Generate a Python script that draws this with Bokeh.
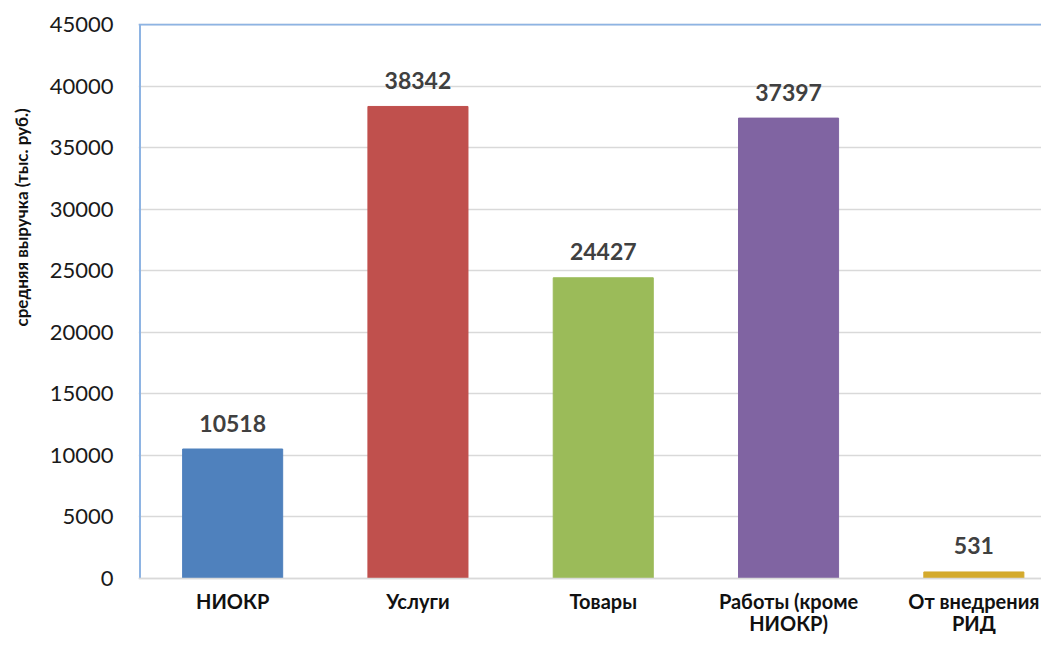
from bokeh.plotting import figure
from bokeh.models import ColumnDataSource, FixedTicker, Span, Range1d, Title
from bokeh.core.properties import value
from bokeh.embed import file_html
from bokeh.resources import INLINE

categories = ["НИОКР", "Услуги", "Товары", "Работы (кроме\nНИОКР)", "От внедрения\nРИД"]
values = [10518, 38342, 24427, 37397, 531]
colors = ["#4F81BD", "#C0504D", "#9BBB59", "#8064A2", "#D4AA2C"]
y_ticks = [0, 5000, 10000, 15000, 20000, 25000, 30000, 35000, 40000, 45000]
y_label = "средняя выручка (тыс. руб.)"

# layout constants (pixels)
PX_X = 185.3            # pixels per category
PX_Y = 554 / 45000      # pixels per unit
FRAME_LEFT = 138
FRAME_TOP = 23
W, H = 1041, 634
frame_w = W - FRAME_LEFT
frame_h = H - FRAME_TOP
x_start = -1.5 / PX_X
x_end = x_start + frame_w / PX_X
y_end = 45000 + 1 / PX_Y
y_start = y_end - frame_h / PX_Y

xs = [i + 0.5 for i in range(len(categories))]
line1 = [c.split("\n")[0] for c in categories]
line2 = [c.split("\n")[1] if "\n" in c else "" for c in categories]
src = ColumnDataSource(dict(x=xs, top=values, color=colors,
                            label=[str(v) for v in values],
                            zero=[0] * len(xs), l1=line1, l2=line2))

p = figure(width=W, height=H, output_backend="svg", toolbar_location=None,
           x_range=Range1d(x_start, x_end), y_range=Range1d(y_start, y_end),
           x_axis_location=None,
           min_border_left=FRAME_LEFT, min_border_right=0, min_border_top=FRAME_TOP,
           min_border_bottom=0)
p.outline_line_color = None
p.background_fill_color = "white"
p.border_fill_color = "white"

# grid
p.xgrid.grid_line_color = None
p.ygrid.grid_line_color = "#D9D9D9"
p.ygrid.grid_line_width = 1.5

# axis line at zero
p.add_layout(Span(location=0, dimension="width", line_color="#D9D9D9", line_width=1.5))

p.vbar(x="x", top="top", width=0.54, bottom=0, color="color", source=src)
p.text(x="x", y="top", text="label", source=src, text_align="center",
       text_baseline="alphabetic", y_offset=-26, text_font=value("Lato"),
       text_font_style="bold", text_font_size="23px", text_color="#404040")

# category labels below the zero line
for col, off in (("l1", 22), ("l2", 44)):
    p.text(x="x", y="zero", text=col, source=src, text_align="center",
           text_baseline="alphabetic", y_offset=off, text_font=value("Lato"),
           text_font_style="bold", text_font_size="20px", text_color="#111111")

# frame borders (left and top)
p.segment(x0=[0], y0=[0], x1=[0], y1=[45000], line_color="#8EB4E3", line_width=2)
p.add_layout(Span(location=45000, dimension="width", line_color="#8EB4E3", line_width=2))

# y axis
p.yaxis.ticker = FixedTicker(ticks=y_ticks)
p.yaxis.axis_line_color = None
p.yaxis.major_tick_line_color = None
p.yaxis.minor_tick_line_color = None
p.yaxis.major_tick_out = 0
p.yaxis.major_tick_in = 0
p.yaxis.major_label_standoff = 25
p.yaxis.major_label_text_font = "Lato"
p.yaxis.major_label_text_font_size = "22px"
p.yaxis.major_label_text_color = "#1a1a1a"
p.yaxis.axis_label = " "
p.yaxis.axis_label_text_font_size = "1px"
p.yaxis.axis_label_standoff = 6

# rotated y label
p.add_layout(Title(text=y_label, align="left", offset=308,
                   text_font="Lato", text_font_style="bold",
                   text_font_size="17px", text_color="#111111"), "left")

open("out.html", "w").write(file_html(p, INLINE))
